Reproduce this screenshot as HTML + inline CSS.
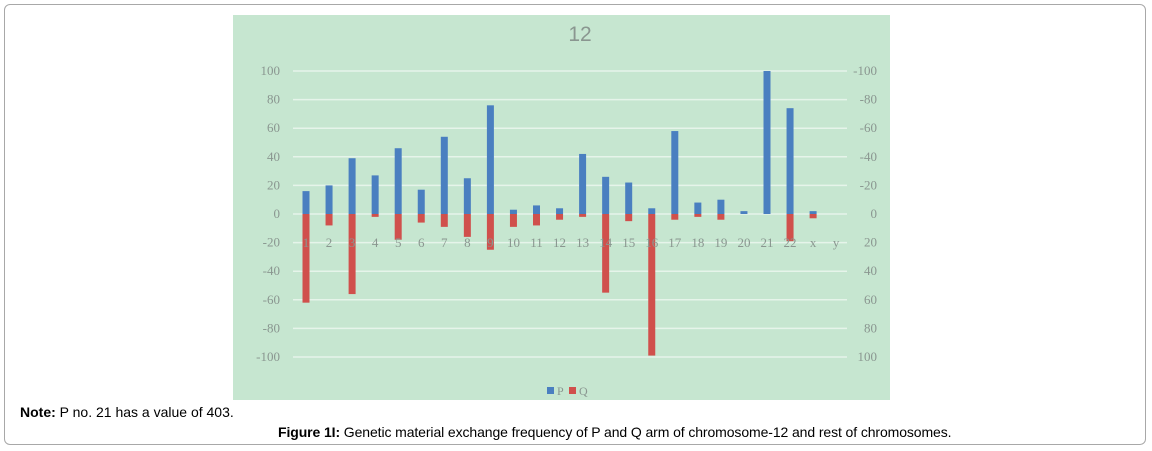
<!DOCTYPE html>
<html><head><meta charset="utf-8"><style>
body{margin:0;width:1152px;height:451px;background:#fff;position:relative;overflow:hidden;font-family:"Liberation Sans",sans-serif}
#frame{position:absolute;left:4px;top:4px;width:1142px;height:441px;border:1px solid #a8a8a8;border-radius:6px;box-sizing:border-box}
#note{position:absolute;left:20px;top:404px;font-size:14px;color:#000}
#cap{position:absolute;left:278px;top:424px;font-size:14px;color:#000;letter-spacing:-0.1px;white-space:nowrap}
svg{position:absolute;left:0;top:0}
</style></head><body>
<div id="frame"></div>
<svg width="1152" height="451">
<rect x="233" y="15" width="657" height="385" fill="#c6e6d0"/>
<text x="580" y="41" font-size="21" fill="#8a9690" text-anchor="middle" font-family="Liberation Sans,sans-serif">12</text>
<g id="grid"></g><g id="bars"></g><g id="labels"></g>
<rect x="547" y="387" width="7" height="7" fill="#4a7fc0"/>
<text x="557" y="395" font-size="12" fill="#8a9690" font-family="Liberation Serif,serif">P</text>
<rect x="569" y="387" width="7" height="7" fill="#d0504c"/>
<text x="579" y="395" font-size="12" fill="#8a9690" font-family="Liberation Serif,serif">Q</text>
</svg>
<div id="note"><b>Note:</b> P no. 21 has a value of 403.</div>
<div id="cap"><b>Figure 1I:</b> Genetic material exchange frequency of P and Q arm of chromosome-12 and rest of chromosomes.</div>
<script>
const categories=["1","2","3","4","5","6","7","8","9","10","11","12","13","14","15","16","17","18","19","20","21","22","x","y"];
const pValues=[16,20,39,27,46,17,54,25,76,3,6,4,42,26,22,4,58,8,10,2,100,74,2,0];
const qValues=[62,8,56,2,18,6,9,16,25,9,8,4,2,55,5,99,4,2,4,0,0,19,3,0];
const leftTicks=[100,80,60,40,20,0,-20,-40,-60,-80,-100];
const rightTicks=["-100","-80","-60","-40","-20","0","20","40","60","80","100"];
const NS="http://www.w3.org/2000/svg";
const y0=214,k=1.43,x0=306,step=23.05,bw=7;
const yS=v=>y0-v*k, xS=i=>x0+i*step;
function mk(t,a,p){const e=document.createElementNS(NS,t);for(const n in a)e.setAttribute(n,a[n]);document.getElementById(p).appendChild(e);return e;}
leftTicks.forEach((v,i)=>{
 const y=yS(v);
 const g=mk('line',{x1:293,x2:847,y1:y,y2:y,stroke:'#e6f4ea','stroke-width':1.5},'grid');
 
 
 const l=mk('text',{x:280,y:y+4,'font-size':13,fill:'#8a9690','text-anchor':'end','font-family':'Liberation Serif,serif'},'labels');
 l.textContent=v;
 
 
 const r=mk('text',{x:877,y:y+4,'font-size':13,fill:'#8a9690','text-anchor':'end','font-family':'Liberation Serif,serif'},'labels');
 r.textContent=rightTicks[i];
 
 
});
categories.forEach((c,i)=>{
 const x=xS(i);
 const t=mk('text',{x:x,y:y0+33,'font-size':13,fill:'#8a9690','text-anchor':'middle','font-family':'Liberation Serif,serif'},'labels');
 t.textContent=c;
 
 
 if(pValues[i]>0){const b=mk('rect',{x:x-bw/2,y:yS(pValues[i]),width:bw,height:pValues[i]*k,fill:'#4a7fc0'},'bars');
 
 }
 if(qValues[i]>0){const b=mk('rect',{x:x-bw/2,y:y0,width:bw,height:qValues[i]*k,fill:'#d0504c'},'bars');
 
 }
});
</script>
</body></html>
